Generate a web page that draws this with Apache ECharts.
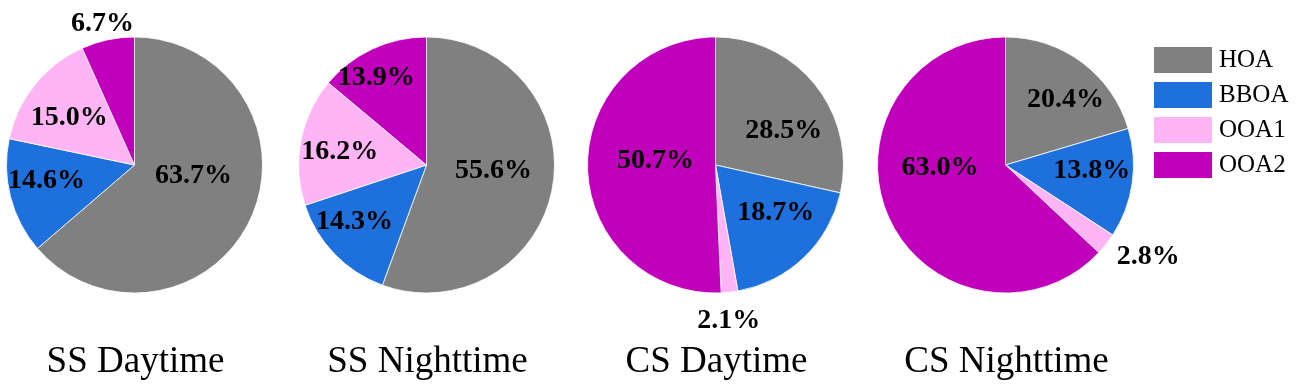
<!DOCTYPE html>
<html>
<head>
<meta charset="utf-8">
<script src="https://cdn.jsdelivr.net/npm/echarts@6/dist/echarts.min.js"></script>
<style>
  html, body { margin: 0; padding: 0; background: #fff; }
  #chart { width: 1304px; height: 392px; }
</style>
</head>
<body>
<div id="chart"></div>
<script>
// source categories and panel names
const categories = ['HOA', 'BBOA', 'OOA1', 'OOA2']
const panels = ['SS Daytime', 'SS Nighttime', 'CS Daytime', 'CS Nighttime']

// percent contributions, same order as categories
const ssDay = [63.7, 14.6, 15.0, 6.7]
const ssNight = [55.6, 14.3, 16.2, 13.9]
const csDay = [28.5, 18.7, 2.1, 50.7]
const csNight = [20.4, 13.8, 2.8, 63.0]
const panelValues = [ssDay, ssNight, csDay, csNight]

const colors = ['#808080', '#1e70dc', '#ffb4f6', '#c000ba']
const centersX = [134.5, 426.5, 715.5, 1005.5]
const centerY = 165
const pieRadius = 128

// nudges of the labels away from the default "inside" spot
const labelNudges = [
  [[-2, -17], [-23, -1], [-13, -5], [-18, -76]],
  [[1, -6], [-24, 10], [-21, -1], [-22, -27]],
  [[16, 8], [14, -1], [6, 89], [7, -6]],
  [[20, -12], [20, -4], [90, 50], [-4, -24]],
]

const serif = '"Liberation Serif", "DejaVu Serif", serif'

const buildOption = () => ({
  animation: false,
  color: colors,
  title: panels.map((name, i) => ({
    text: name,
    left: centersX[i] - 4,
    top: 339,
    textAlign: 'center',
    textStyle: { fontFamily: serif, fontSize: 37, fontWeight: 'normal', color: '#000' },
  })),
  legend: {
    orient: 'vertical',
    left: 1152,
    top: 45,
    padding: 0,
    itemWidth: 60,
    itemHeight: 28,
    itemGap: 5,
    icon: 'rect',
    data: categories,
    textStyle: { fontFamily: serif, fontSize: 25, color: '#000', padding: [0, 0, 0, 1] },
  },
  series: panelValues.map((vals, i) => ({
    type: 'pie',
    center: [centersX[i], centerY],
    radius: pieRadius,
    startAngle: 90,
    clockwise: true,
    silent: true,
    emphasis: { disabled: true },
    itemStyle: { borderColor: '#ffffff', borderWidth: 0.8 },
    labelLine: { show: false },
    label: {
      position: 'inside',
      fontFamily: serif,
      fontSize: 28,
      fontWeight: 'bold',
      color: '#000',
      formatter: (p) => p.value.toFixed(1) + '%',
    },
    data: categories.map((c, j) => ({
      name: c,
      value: vals[j],
      label: { offset: labelNudges[i][j] },
    })),
  })),
})

const chart = echarts.init(document.getElementById('chart'))
chart.setOption(buildOption())
</script>
</body>
</html>
